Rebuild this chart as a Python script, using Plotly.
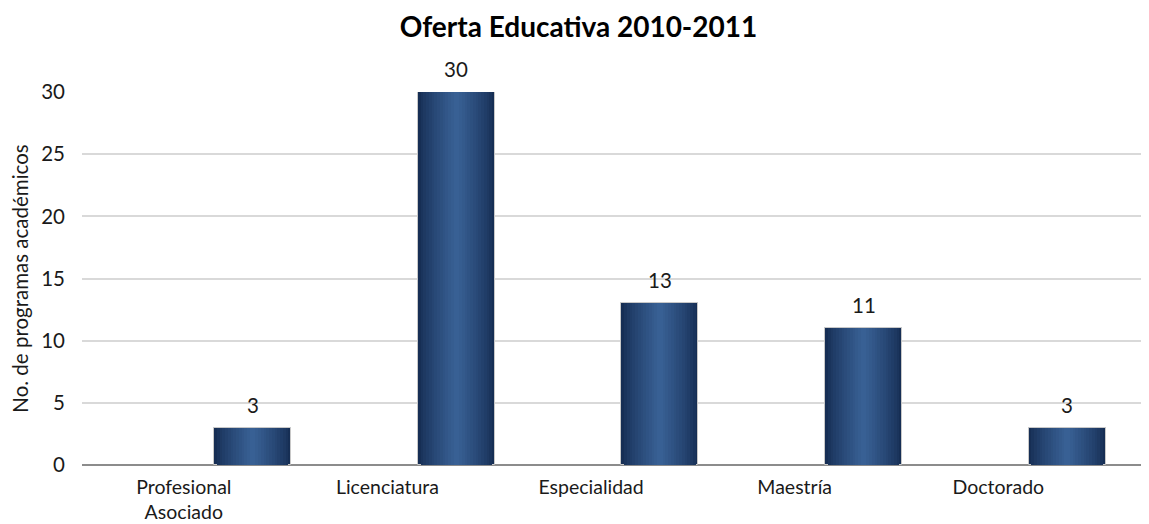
import plotly.graph_objects as go

# Data
categories = ['Profesional<br>Asociado', 'Licenciatura', 'Especialidad', 'Maestría', 'Doctorado']
programas = [3, 30, 13, 11, 3]
y_ticks = [0, 5, 10, 15, 20, 25, 30]

FONT = 'Lato'
TEXT = '#1a1a1a'
FS = 20.5

# bar placement inside each category slot (Excel-like offset to the right)
BAR_OFFSET = 0.149
BAR_WIDTH = 0.378
STEPS = 14
EDGE = (22, 46, 84)
MID = (58, 99, 152)


def mix(a, b, t):
    return 'rgb(%d,%d,%d)' % tuple(round(a[i] + (b[i] - a[i]) * t) for i in range(3))


fig = go.Figure()

# Layered bars to fake the horizontal metallic gradient
bar_center = BAR_OFFSET + BAR_WIDTH / 2
for k in range(STEPS):
    frac = k / STEPS
    w = BAR_WIDTH * (1 - frac)
    fig.add_trace(go.Bar(
        x=categories,
        y=programas,
        width=w,
        offset=bar_center - w / 2,
        marker=dict(
            color=mix(EDGE, MID, frac ** 0.8),
            line=dict(color='#c8c8c8' if k == 0 else 'rgba(0,0,0,0)', width=1 if k == 0 else 0)
        ),
        hoverinfo='skip',
        showlegend=False
    ))

# Data labels above bars
for i, v in enumerate(programas):
    fig.add_annotation(
        x=i + bar_center, y=v, text=str(v),
        showarrow=False, yanchor='bottom', yshift=9,
        font=dict(family=FONT, size=FS, color=TEXT)
    )

# page body adds an 8px margin, so the figure is 8px smaller than the window
fig.update_layout(
    barmode='overlay',
    title=dict(
        text='<b>Oferta Educativa 2010-2011</b>',
        x=0.5, xanchor='center', y=0.963, yanchor='middle',
        font=dict(family=FONT, size=28, color='#000000')
    ),
    xaxis=dict(
        type='category',
        range=[-0.5, 4.74],
        showgrid=False,
        showline=False,
        ticks='',
        automargin=False,
        tickfont=dict(family=FONT, size=19.5, color=TEXT),
        ticklabelstandoff=8
    ),
    yaxis=dict(
        title=dict(text='No. de programas académicos',
                   font=dict(family=FONT, size=FS, color=TEXT), standoff=12),
        range=[0, 30],
        tickvals=y_ticks,
        showgrid=True,
        gridcolor='#d9d9d9',
        gridwidth=1.5,
        zeroline=True,
        zerolinecolor='#8c8c8c',
        zerolinewidth=2,
        ticks='',
        automargin=False,
        ticklabelstandoff=16,
        tickfont=dict(family=FONT, size=FS, color=TEXT)
    ),
    plot_bgcolor='white',
    paper_bgcolor='white',
    width=1141,
    height=516,
    margin=dict(l=74, r=0, t=84, b=59),
    bargap=0
)

fig.write_html('out.html')
